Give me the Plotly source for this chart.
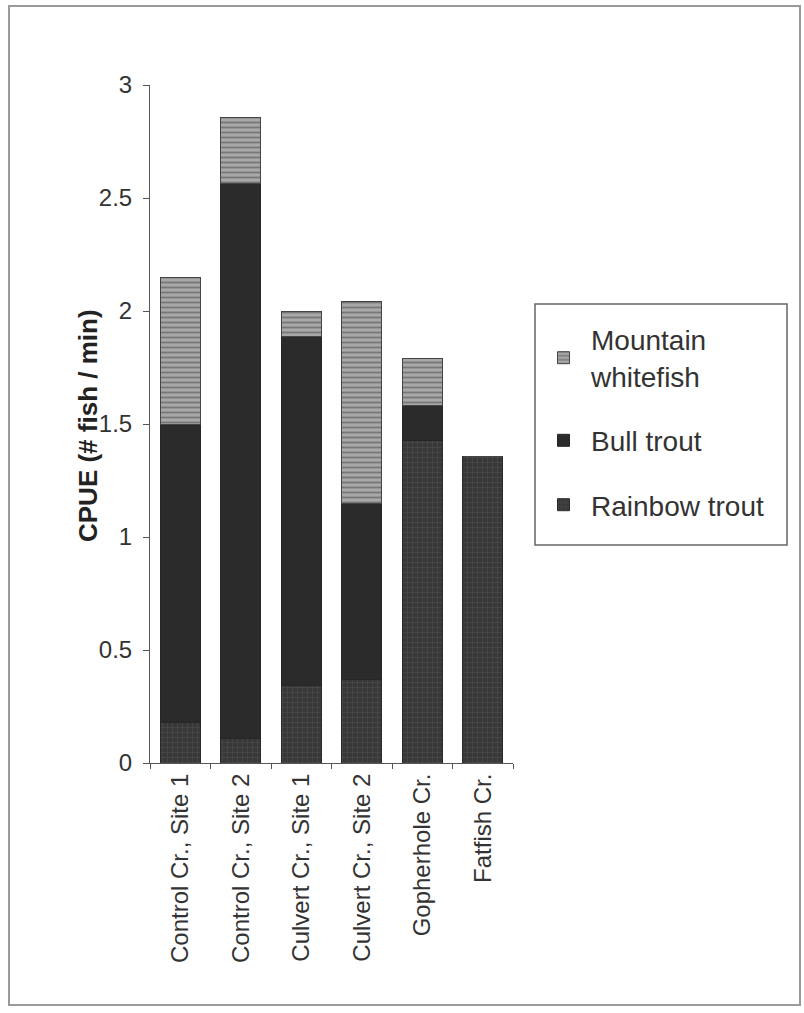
import plotly.graph_objects as go

# Sampling sites along the x axis
sites = [
    "Control Cr., Site 1",
    "Control Cr., Site 2",
    "Culvert Cr., Site 1",
    "Culvert Cr., Site 2",
    "Gopherhole Cr.",
    "Fatfish Cr.",
]

# Catch per unit effort (# fish / min) by species, stacked bottom to top
rainbow_trout = [0.18, 0.11, 0.345, 0.37, 1.425, 1.355]
bull_trout = [1.32, 2.455, 1.54, 0.78, 0.155, 0.0]
mountain_whitefish = [0.65, 0.29, 0.115, 0.89, 0.21, 0.0]

y_ticks = [0, 0.5, 1, 1.5, 2, 2.5, 3]
y_tick_labels = ["0", "0.5", "1", "1.5", "2", "2.5", "3"]

FONT = "Liberation Sans, Arial, sans-serif"

# Plot-area geometry in pixels (used to place the legend frame and title)
PLOT_L, PLOT_R, PLOT_T, PLOT_B = 150, 513, 85, 763


def px_x(px):
    return (px - PLOT_L) / (PLOT_R - PLOT_L)


def px_y(py):
    return (PLOT_B - py) / (PLOT_B - PLOT_T)


fig = go.Figure()

fig.add_trace(go.Bar(
    x=sites, y=rainbow_trout, name="Rainbow trout", legendgroup="rb", legendrank=3,
    marker=dict(
        color="#3a3a3a",
        line=dict(color="#2a2a2a", width=1),
        pattern=dict(shape="+", fgcolor="#606060", bgcolor="#383838",
                     size=5, solidity=0.25),
    ),
))
fig.add_trace(go.Bar(
    x=sites, y=bull_trout, name="Bull trout", legendgroup="bt", legendrank=2,
    marker=dict(color="#2b2b2b", line=dict(color="#262626", width=1)),
))
fig.add_trace(go.Bar(
    x=sites, y=mountain_whitefish, name="Mountain<br>whitefish", legendgroup="mw",
    legendrank=1,
    marker=dict(
        color="#8c8c8c",
        line=dict(color="#444444", width=1),
        pattern=dict(shape="-", fgcolor="#454545", bgcolor="#a8a8a8",
                     size=5, solidity=0.35),
    ),
))

# Frame around the whole chart
fig.add_shape(type="rect", xref="paper", yref="paper",
              x0=px_x(9), x1=px_x(800), y0=px_y(1005), y1=px_y(6),
              line=dict(color="#9a9a9a", width=2))
# Legend frame
fig.add_shape(type="rect", xref="paper", yref="paper",
              x0=px_x(535), x1=px_x(787), y0=px_y(545), y1=px_y(304),
              line=dict(color="#666666", width=1.5))

# Y-axis title
fig.add_annotation(
    text="<b>CPUE (# fish / min)</b>", xref="paper", yref="paper",
    x=px_x(88), y=px_y(426), textangle=-90, showarrow=False,
    xanchor="center", yanchor="middle",
    font=dict(family=FONT, size=26, color="#222222"),
)

fig.update_layout(
    width=804, height=1013,
    margin=dict(l=PLOT_L, r=804 - PLOT_R, t=PLOT_T, b=1013 - PLOT_B),
    paper_bgcolor="white", plot_bgcolor="white",
    barmode="stack", bargap=0.34,
    font=dict(family=FONT, color="#333333"),
    showlegend=True,
    legend=dict(
        x=px_x(536), y=px_y(307), xanchor="left", yanchor="top",
        traceorder="grouped", tracegroupgap=25,
        borderwidth=0, bgcolor="rgba(0,0,0,0)",
        font=dict(family=FONT, size=28, color="#333333"),
        itemwidth=45,
        title=dict(text=" ", font=dict(size=6)),
    ),
    xaxis=dict(
        range=[-0.5, 5.5], showline=True, linecolor="#555555", linewidth=1,
        ticks="outside", tickson="boundaries", ticklen=5, tickcolor="#555555",
        tickangle=-90, tickfont=dict(family=FONT, size=24, color="#333333"),
        showgrid=False, zeroline=False,
    ),
    yaxis=dict(
        range=[0, 3], tickvals=y_ticks, ticktext=y_tick_labels,
        showline=True, linecolor="#555555", linewidth=1,
        ticks="outside", ticklen=6, tickcolor="#555555",
        ticklabelstandoff=6,
        tickfont=dict(family=FONT, size=24, color="#333333"),
        showgrid=False, zeroline=False,
    ),
)

fig.write_html("out.html")
